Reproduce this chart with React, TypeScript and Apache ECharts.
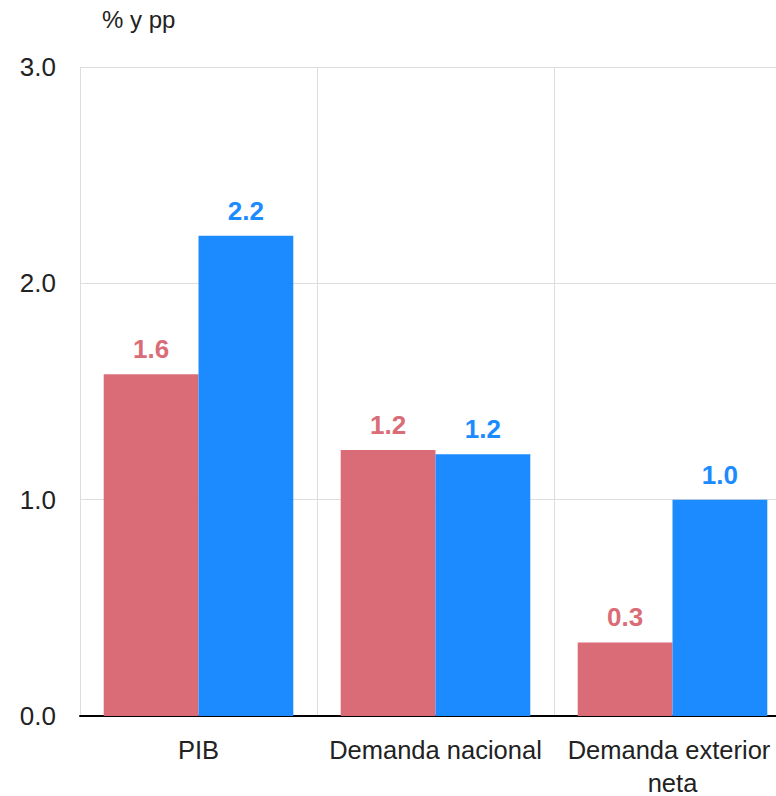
import React, { useEffect, useRef } from "react";
import * as echarts from "echarts";

const categories = ["PIB", "Demanda nacional", "Demanda exterior neta"];
const seriesRed = [1.58, 1.23, 0.34];
const seriesBlue = [2.22, 1.21, 1.0];
const yTicks = [0, 1, 2, 3];

const RED = "#DA6C78";
const BLUE = "#1C8BFF";
const FONT = "'Helvetica Neue', Helvetica, 'Liberation Sans', Arial, sans-serif";

export default function App() {
  const ref = useRef<HTMLDivElement>(null);

  useEffect(() => {
    if (!ref.current) return;
    const chart = echarts.init(ref.current, null, { renderer: "svg" });

    const valueLabel = (color: string) => ({
      show: true,
      position: "top" as const,
      distance: 12,
      color,
      fontFamily: FONT,
      fontSize: 26,
      fontWeight: "bold" as const,
      formatter: (p: any) => Number(p.value).toFixed(1),
    });

    chart.setOption({
      animation: false,
      textStyle: { fontFamily: FONT },
      title: {
        text: "% y pp",
        left: 97,
        top: 2,
        textStyle: { fontFamily: FONT, fontSize: 24, fontWeight: "normal", color: "#222" },
      },
      grid: {
        left: 80,
        top: 67,
        bottom: 80,
        right: 0,
        containLabel: false,
        outerBoundsMode: "none",
      },
      xAxis: {
        type: "category",
        data: categories,
        boundaryGap: true,
        axisLine: { show: true, lineStyle: { color: "#000", width: 2 } },
        axisTick: { show: false },
        splitLine: { show: true, lineStyle: { color: "#dddddd", width: 1 } },
        axisLabel: {
          color: "#222",
          fontFamily: FONT,
          fontSize: 25.5,
          margin: 17,
          lineHeight: 33,
          interval: 0,
          width: 232,
          overflow: "break",
        },
      },
      yAxis: {
        type: "value",
        min: yTicks[0],
        max: yTicks[yTicks.length - 1],
        interval: 1,
        axisLine: { show: false },
        axisTick: { show: false },
        splitLine: { show: true, lineStyle: { color: "#dddddd", width: 1 } },
        axisLabel: {
          color: "#222",
          fontFamily: FONT,
          fontSize: 26,
          margin: 24,
          formatter: (v: number) => v.toFixed(1),
        },
      },
      series: [
        {
          name: "Serie 1",
          type: "bar",
          data: seriesRed,
          barGap: "0%",
          barCategoryGap: "20%",
          itemStyle: { color: RED },
          label: valueLabel(RED),
        },
        {
          name: "Serie 2",
          type: "bar",
          data: seriesBlue,
          barGap: "0%",
          barCategoryGap: "20%",
          itemStyle: { color: BLUE },
          label: valueLabel(BLUE),
        },
      ],
    });

    return () => chart.dispose();
  }, []);

  // The plot runs slightly past the right edge, so the chart is clipped by its frame.
  return (
    <div
      style={{
        position: "absolute",
        left: 0,
        top: 0,
        width: 776,
        height: 796,
        overflow: "hidden",
      }}
    >
      <div ref={ref} style={{ width: 791, height: 796 }} />
    </div>
  );
}
